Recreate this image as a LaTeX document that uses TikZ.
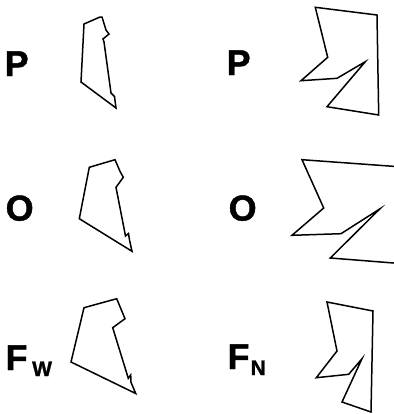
\documentclass[tikz,border=0pt]{standalone}
\usepackage{fontspec}
\setmainfont{Liberation Sans}
\newfontfamily\heavyfont[FakeBold=1.3]{Liberation Sans Bold}
\begin{document}
\begin{tikzpicture}[x=1bp,y=-1bp,
  outline/.style={draw=black,line width=1.5bp,line join=miter},
  biglab/.style={anchor=base west,inner sep=0pt,font=\fontsize{36}{36}\heavyfont},
  sublab/.style={anchor=base west,inner sep=0pt,font=\fontsize{21}{21}\heavyfont}]
\useasboundingbox (0,0) rectangle (394,414);
\clip (0,0) rectangle (394,414);
% labels
\node[biglab] (p1) at (4.5,76) {P};
\node[biglab] (p2) at (226.5,75) {P};
\node[biglab] (o1) at (5.5,220.5) {O};
\node[biglab] (o2) at (228.5,220.5) {O};
\node[biglab] (f1) at (5.4,370) {F};
\node[sublab] (w1) at (32,376) {W};
\node[biglab] (f2) at (227.4,369) {F};
\node[sublab] (n2) at (250.5,375) {N};
% shapes
\draw[outline] (84,24) -- (100,17) -- (102,17) -- (106,30) -- (109,34) -- (103,39) -- (104,42)
  -- (111,93) -- (114.5,96.5) -- (116,108) -- (81,82) -- cycle;
\draw[outline] (315.3,7.3) -- (377,15) -- (378.7,115) -- (327,106.7) -- (365.3,61.7)
  -- (337,78.3) -- (301,80.7) -- (327.7,57.3) -- cycle;
\draw[outline] (89.3,167.3) -- (115,159.7) -- (120,171.3) -- (123.3,177.3) -- (116,187.3)
  -- (125.5,236) -- (128.5,233.5) -- (129.5,240) -- (132,251.3) -- (79.3,218.7) -- cycle;
\draw[outline] (302,159.7) -- (400,166.8) -- (400,263.5) -- (330.3,258) -- (379.7,209)
  -- (341,233.7) -- (292,235.3) -- (323.7,208) -- cycle;
\draw[outline] (84,307.7) -- (116.7,298.7) -- (125,318.7) -- (112.7,327.7) -- (128.3,378.3)
  -- (130.7,375) -- (131,382.3) -- (135.7,393.5) -- (71,362) -- cycle;
\draw[outline] (327,302) -- (373,311) -- (371,412) -- (342,402) -- (362,358.7)
  -- (348.7,374.3) -- (316.3,377.7) -- (337,351) -- cycle;
\end{tikzpicture}
\end{document}
